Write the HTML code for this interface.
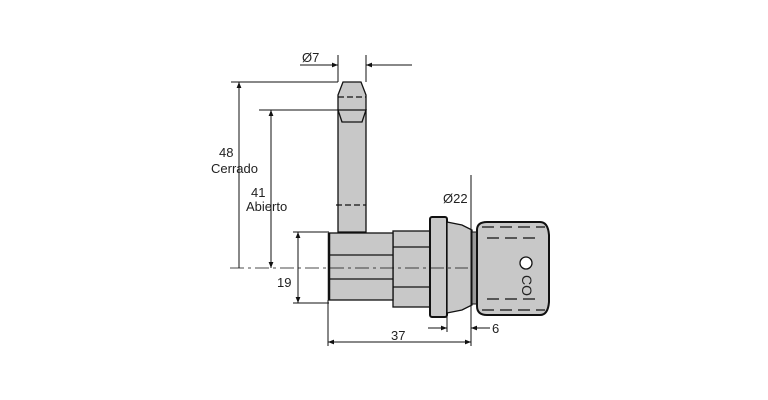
<!DOCTYPE html>
<html><head><meta charset="utf-8"><style>
html,body{margin:0;padding:0;background:#fff;}
svg{display:block}
text{font-family:"Liberation Sans",sans-serif;font-size:13px;fill:#222}
</style></head><body>
<svg width="768" height="400" viewBox="0 0 768 400" xmlns="http://www.w3.org/2000/svg">
<defs>
<marker id="a" viewBox="0 0 10 10" refX="10" refY="5" markerWidth="9" markerHeight="6" orient="auto-start-reverse" markerUnits="userSpaceOnUse"><path d="M0,1 L10,5 L0,9 z" fill="#111"/></marker>
</defs>
<g stroke="#111" stroke-width="1.3" fill="#c8c8c8">
<path d="M343,82 L361,82 L366,95 L366,232 L338,232 L338,95 Z"/>
<path d="M338,97 L366,97" stroke-dasharray="6,3" fill="none"/>
<path d="M338,110 L366,110 L362,122 L342,122 Z"/>
<path d="M336,205 L366,205" stroke-dasharray="6,3" fill="none"/>
<rect x="393" y="231" width="37" height="76"/>
<path d="M393,247 L430,247 M393,287 L430,287" fill="none"/>
<rect x="329" y="233" width="64" height="67"/>
<path d="M329,255 L393,255 M329,279 L393,279" fill="none"/>
<path d="M329,233 L329,300" stroke-width="2.5" fill="none"/>
<rect x="430" y="217" width="17" height="100" rx="2" stroke-width="2"/>
<path d="M447,222 L462,225 L472,230 L472,305 L462,310 L447,313 Z"/>
<rect x="472" y="232" width="6" height="72" fill="#999" stroke-width="1"/>
<path d="M477,230 Q477,222 487,222 L540,222 Q548,222 549,235 L549,302 Q548,315 540,315 L487,315 Q477,315 477,306 Z" stroke-width="2"/>
<path d="M482,227 L545,227 M482,310 L545,310" fill="none" stroke-dasharray="12,6"/>
<path d="M487,238 L540,238 M487,299 L540,299" fill="none" stroke-dasharray="12,6"/>
<circle cx="526" cy="263" r="6" fill="#fff"/>
</g>
<text x="518" y="287" transform="rotate(90 526 283)" style="font-size:14px">CO</text>
<path d="M230,268 L468,268" stroke="#111" stroke-width="0.8" stroke-dasharray="14,4,3,4" fill="none"/>
<g stroke="#111" stroke-width="1" fill="none">
<path d="M338,55 L338,82 M366,55 L366,82"/>
<path d="M300,65 L338,65" marker-end="url(#a)"/>
<path d="M412,65 L366,65" marker-end="url(#a)"/>
<path d="M231,82 L338,82"/>
<path d="M239,268 L239,82" marker-end="url(#a)"/>
<path d="M259,110 L338,110"/>
<path d="M271,110 L271,268" marker-start="url(#a)" marker-end="url(#a)"/>
<path d="M293,232 L329,232 M293,303 L329,303"/>
<path d="M298,232 L298,303" marker-start="url(#a)" marker-end="url(#a)"/>
<path d="M328,300 L328,346 M471,175 L471,346"/>
<path d="M328,342 L471,342" marker-start="url(#a)" marker-end="url(#a)"/>
<path d="M447,313 L447,332"/>
<path d="M428,328 L447,328" marker-end="url(#a)"/>
<path d="M490,328 L471,328" marker-end="url(#a)"/>
</g>
<text x="302" y="62">Ø7</text>
<text x="219" y="157">48</text>
<text x="211" y="173">Cerrado</text>
<text x="251" y="197">41</text>
<text x="246" y="211">Abierto</text>
<text x="277" y="287">19</text>
<text x="391" y="340">37</text>
<text x="492" y="333">6</text>
<text x="443" y="203">Ø22</text>
</svg>
</body></html>
